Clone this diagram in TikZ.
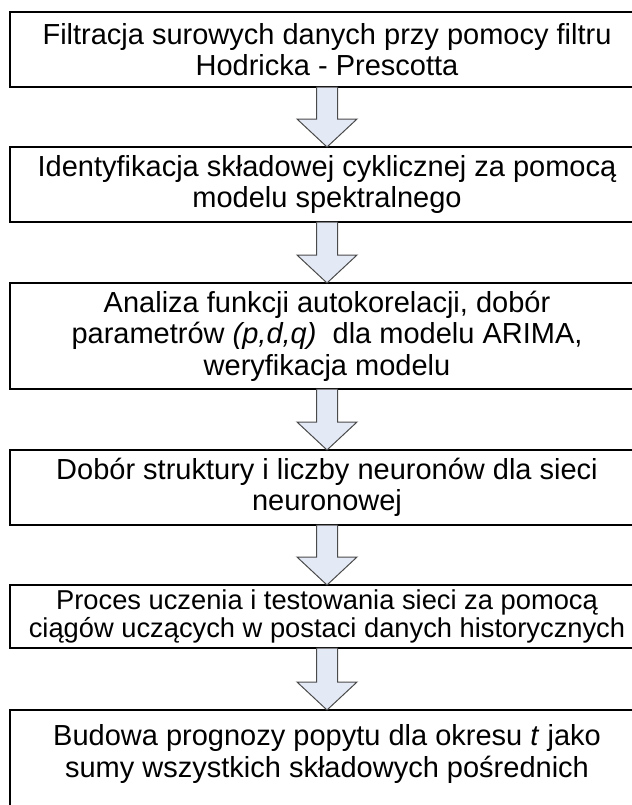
\documentclass[tikz,border=0pt]{standalone}
\usepackage{fontspec}
\setmainfont{Liberation Sans}
\usetikzlibrary{calc}
\definecolor{arrowfill}{HTML}{E3EAF6}
\definecolor{arrowline}{HTML}{4A4A4A}
\tikzset{
  bigtext/.style={font=\fontsize{29bp}{31.5bp}\selectfont},
  smalltext/.style={font=\fontsize{27.3bp}{28bp}\selectfont},
  stepbox/.style={draw=black, line width=1.5bp, fill=white, minimum width=634bp,
    inner sep=0pt, outer sep=0pt, align=center, bigtext},
  flowarrow/.style={draw=arrowline, fill=arrowfill, line width=1bp, line join=miter},
}
% block arrow from the bottom of one box to the top of the next
\newcommand{\blockarrow}[2]{%
  \draw[flowarrow] ($(#1.south)+(-10.5,0)$) -- ($(#2.north)+(-10.5,-28)$)
    -- ($(#2.north)+(-30,-28)$) -- (#2.north) -- ($(#2.north)+(30,-28)$)
    -- ($(#2.north)+(10.5,-28)$) -- ($(#1.south)+(10.5,0)$) -- cycle;}
\begin{document}
\begin{tikzpicture}[x=1bp,y=-1bp]
\useasboundingbox (0,0) rectangle (632,805);
\clip (0,0) rectangle (632,805);
\node[stepbox, minimum height=75bp] (b1) at (327,49.5)
  {Filtracja surowych danych przy pomocy filtru\\Hodricka - Prescotta};
\node[stepbox, minimum height=75bp] (b2) at (327,184.5)
  {Identyfikacja składowej cyklicznej za pomocą\\modelu spektralnego};
\node[stepbox, minimum height=106bp] (b3) at (327,336)
  {Analiza funkcji autokorelacji, dobór\\parametrów \textit{(p,d,q)}\ \ dla modelu ARIMA,\\weryfikacja modelu};
\node[stepbox, minimum height=75bp] (b4) at (327,487.5)
  {Dobór struktury i liczby neuronów dla sieci\\neuronowej};
\node[stepbox, smalltext, minimum height=63bp] (b5) at (327,616.5)
  {Proces uczenia i testowania sieci za pomocą\\ciągów uczących w postaci danych historycznych};
\node[stepbox, minimum height=100bp] (b6) at (327,760) {};
\node[align=center, inner sep=0pt, bigtext] (t6) at ($(b6.north)+(0,44)$)
  {Budowa prognozy popytu dla okresu \textit{t} jako\\sumy wszystkich składowych pośrednich};
\blockarrow{b1}{b2}
\blockarrow{b2}{b3}
\blockarrow{b3}{b4}
\blockarrow{b4}{b5}
\blockarrow{b5}{b6}
\end{tikzpicture}
\end{document}
